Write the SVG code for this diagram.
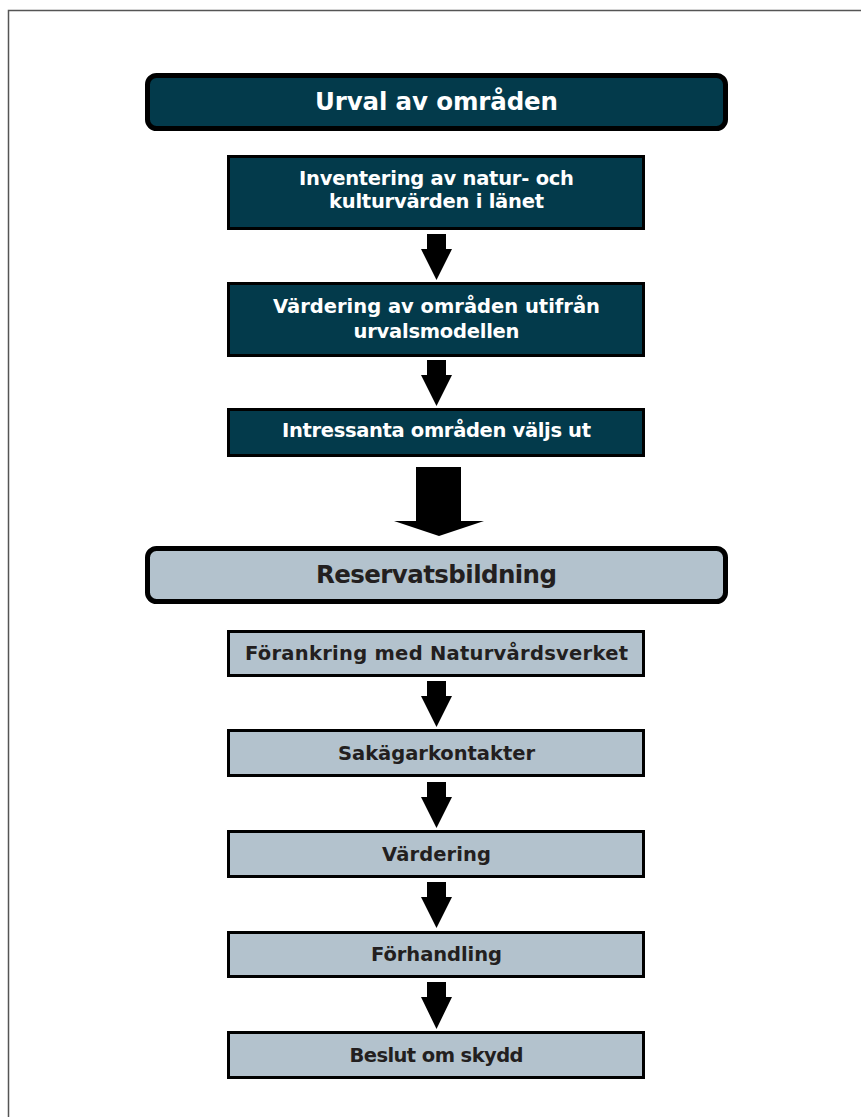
<svg xmlns="http://www.w3.org/2000/svg" width="861" height="1117" viewBox="0 0 861 1117">
<style>
.dark{fill:#033a4b;stroke:#000;stroke-width:3}
.light{fill:#b3c2cd;stroke:#000;stroke-width:3}
.hdr{stroke-width:5}
text{font-family:"DejaVu Sans","Liberation Sans",sans-serif;font-weight:bold;text-anchor:middle}
.tw{fill:#fff;font-size:19.5px}
.td{fill:#231f20;font-size:19.5px}
.hw{fill:#fff;font-size:24.5px}
.hd{fill:#231f20;font-size:24.5px}
.arr{fill:#000}
</style>
<rect width="861" height="1117" fill="#fff"/>
<path d="M8.5 1117 V10.5 H861" fill="none" stroke="#555" stroke-width="1.5"/>

<g id="header-urval">
<rect class="dark hdr" x="147.5" y="75.5" width="578" height="53" rx="9"/>
<text class="hw" x="436.5" y="110" textLength="243">Urval av områden</text>
</g>
<g id="inventering">
<rect class="dark" x="228.5" y="156.5" width="415" height="72"/>
<text class="tw" x="436.5" y="185" textLength="275">Inventering av natur- och</text>
<text class="tw" x="436.5" y="208" textLength="215">kulturvärden i länet</text>
</g>
<g id="vardering-omraden">
<rect class="dark" x="228.5" y="283.5" width="415" height="72"/>
<text class="tw" x="436.5" y="313" textLength="327">Värdering av områden utifrån</text>
<text class="tw" x="436.5" y="338" textLength="166">urvalsmodellen</text>
</g>
<g id="intressanta">
<rect class="dark" x="228.5" y="409.5" width="415" height="46"/>
<text class="tw" x="436.5" y="437" textLength="309">Intressanta områden väljs ut</text>
</g>
<g id="header-reservat">
<rect class="light hdr" x="147.5" y="548.5" width="578" height="53" rx="9"/>
<text class="hd" x="436.5" y="583" textLength="241">Reservatsbildning</text>
</g>
<g id="forankring">
<rect class="light" x="228.5" y="631.5" width="415" height="44"/>
<text class="td" x="436.5" y="660" textLength="383">Förankring med Naturvårdsverket</text>
</g>
<g id="sakagarkontakter">
<rect class="light" x="228.5" y="730.5" width="415" height="45"/>
<text class="td" x="436.5" y="760" textLength="197">Sakägarkontakter</text>
</g>
<g id="vardering">
<rect class="light" x="228.5" y="831.5" width="415" height="45"/>
<text class="td" x="436.5" y="861" textLength="109">Värdering</text>
</g>
<g id="forhandling">
<rect class="light" x="228.5" y="932.5" width="415" height="44"/>
<text class="td" x="436.5" y="961" textLength="131">Förhandling</text>
</g>
<g id="beslut">
<rect class="light" x="228.5" y="1032.5" width="415" height="45"/>
<text class="td" x="436.5" y="1062" textLength="174">Beslut om skydd</text>
</g>

<g id="connectors">
<polygon class="arr" points="427,234 446,234 446,249 452,249 436.5,280 421,249 427,249"/>
<polygon class="arr" points="427,360 446,360 446,375 452,375 436.5,406 421,375 427,375"/>
<polygon class="arr" points="416,467 461,467 461,521 484,521 439,536 394,521 416,521"/>
<polygon class="arr" points="427,681 446,681 446,696 452,696 436.5,727 421,696 427,696"/>
<polygon class="arr" points="427,782 446,782 446,797 452,797 436.5,828 421,797 427,797"/>
<polygon class="arr" points="427,882 446,882 446,897 452,897 436.5,928 421,897 427,897"/>
<polygon class="arr" points="427,982 446,982 446,997 452,997 436.5,1029 421,997 427,997"/>
</g>
</svg>
